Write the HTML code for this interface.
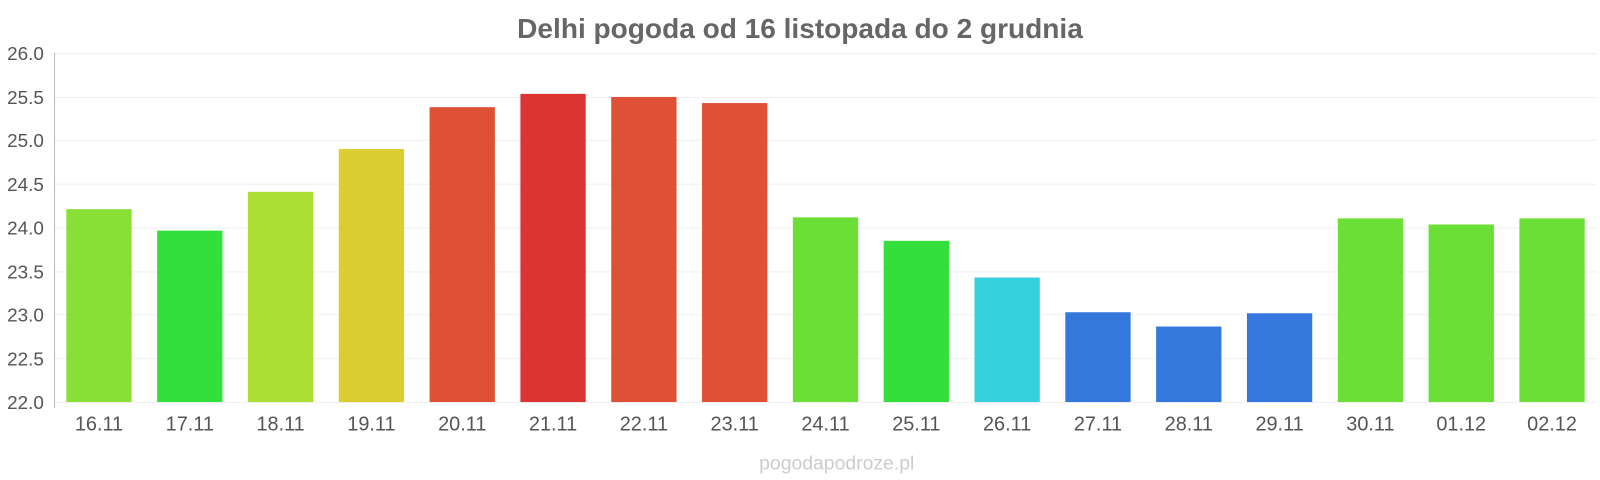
<!DOCTYPE html>
<html><head><meta charset="utf-8"><style>
body{margin:0;background:#fff;}
svg{display:block;font-family:"Liberation Sans",sans-serif;}
</style></head><body>
<svg width="1600" height="480" viewBox="0 0 1568 470.4">
<text x="784" y="37" text-anchor="middle" font-size="27.5" font-weight="bold" fill="#666">Delhi pogoda od 16 listopada do 2 grudnia</text>
<g stroke="#f0f0f0" stroke-width="1">
<line x1="53" x2="1565" y1="52.5" y2="52.5"/><line x1="53" x2="1565" y1="95.5" y2="95.5"/>
<line x1="53" x2="1565" y1="137.5" y2="137.5"/><line x1="53" x2="1565" y1="180.5" y2="180.5"/>
<line x1="53" x2="1565" y1="223.5" y2="223.5"/><line x1="53" x2="1565" y1="266.5" y2="266.5"/>
<line x1="53" x2="1565" y1="308.5" y2="308.5"/><line x1="53" x2="1565" y1="351.5" y2="351.5"/>
<line x1="53" x2="1565" y1="394.5" y2="394.5"/>
</g>
<line x1="53.5" x2="53.5" y1="52" y2="400" stroke="#bbb"/>
<g font-size="18.5" fill="#555" text-anchor="end">
<text x="43" y="59">26.0</text><text x="43" y="102">25.5</text><text x="43" y="144">25.0</text>
<text x="43" y="187">24.5</text><text x="43" y="230">24.0</text><text x="43" y="273">23.5</text>
<text x="43" y="315">23.0</text><text x="43" y="358">22.5</text><text x="43" y="401">22.0</text>
</g>
<g>
<rect x="65" y="205" width="64" height="189" fill="#8adf36"/>
<rect x="154" y="226" width="64" height="168" fill="#33df3a"/>
<rect x="243" y="188" width="64" height="206" fill="#acdf33"/>
<rect x="332" y="146" width="64" height="248" fill="#dccd33"/>
<rect x="421" y="105" width="64" height="289" fill="#de5136"/>
<rect x="510" y="92" width="64" height="302" fill="#dc3433"/>
<rect x="599" y="95" width="64" height="299" fill="#de5136"/>
<rect x="688" y="101" width="64" height="293" fill="#de5136"/>
<rect x="777" y="213" width="64" height="181" fill="#6bdf36"/>
<rect x="866" y="236" width="64" height="158" fill="#33df3a"/>
<rect x="955" y="272" width="64" height="122" fill="#36cfdc"/>
<rect x="1044" y="306" width="64" height="88" fill="#3478dd"/>
<rect x="1133" y="320" width="64" height="74" fill="#3478dd"/>
<rect x="1222" y="307" width="64" height="87" fill="#3478dd"/>
<rect x="1311" y="214" width="64" height="180" fill="#6bdf36"/>
<rect x="1400" y="220" width="64" height="174" fill="#6bdf36"/>
<rect x="1489" y="214" width="64" height="180" fill="#6bdf36"/>
</g>
<g font-size="19.5" fill="#555" text-anchor="middle">
<text x="97" y="422">16.11</text><text x="186" y="422">17.11</text><text x="275" y="422">18.11</text>
<text x="364" y="422">19.11</text><text x="453" y="422">20.11</text><text x="542" y="422">21.11</text>
<text x="631" y="422">22.11</text><text x="720" y="422">23.11</text><text x="809" y="422">24.11</text>
<text x="898" y="422">25.11</text><text x="987" y="422">26.11</text><text x="1076" y="422">27.11</text>
<text x="1165" y="422">28.11</text><text x="1254" y="422">29.11</text><text x="1343" y="422">30.11</text>
<text x="1432" y="422">01.12</text><text x="1521" y="422">02.12</text>
</g>
<text x="820" y="460" text-anchor="middle" font-size="19" fill="#ccc">pogodapodroze.pl</text>
</svg>
</body></html>
